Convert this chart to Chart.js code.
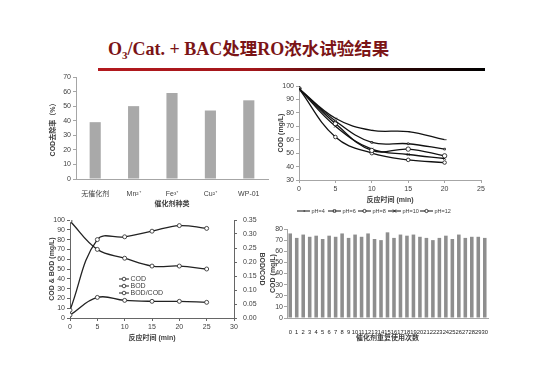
<!DOCTYPE html>
<html><head><meta charset="utf-8">
<script src="https://cdn.jsdelivr.net/npm/chart.js@4.4.0/dist/chart.umd.min.js"></script>
<style>
html,body{margin:0;padding:0;background:#fff;}
body{width:540px;height:382px;position:relative;overflow:hidden;}
canvas{position:absolute;}
#title{position:absolute;left:108px;top:39px;font-family:"Liberation Serif","Noto Sans CJK SC",serif;font-weight:bold;font-size:18px;color:#7b1416;white-space:nowrap;line-height:18px;}
#title .zh{font-family:"Noto Sans CJK SC",sans-serif;font-weight:bold;font-size:17.5px;}
#title sub{font-size:11px;vertical-align:-4px;line-height:0;}
#rule{position:absolute;left:98px;top:68px;width:387px;height:3px;background:linear-gradient(to right,#b3191e 0%,#a3161a 40%,#3a0707 68%,#000 100%);}
</style></head><body>
<div id="title">O<sub>3</sub>/Cat. + BAC<span class="zh">处理</span>RO<span class="zh">浓水试验结果</span></div>
<div id="rule"></div>
<canvas id="c1" width="232" height="140" style="left:40px;top:68px"></canvas>
<canvas id="c2" width="215" height="142" style="left:272px;top:78px"></canvas>
<canvas id="c3" width="221" height="130" style="left:45px;top:212px"></canvas>
<canvas id="c4" width="228" height="122" style="left:266px;top:220px"></canvas>
<script>
// ---- data ----
const catLabels = ['无催化剂', 'Mn²⁺', 'Fe³⁺', 'Cu²⁺', 'WP-01'];
const removalRate = [39, 50, 59, 47, 54];

const phTime = [0, 5, 10, 15, 20];
const phNames = ['pH=4', 'pH=6', 'pH=8', 'pH=10', 'pH=12'];
const ph4 = [98, 76, 67, 66, 60];
const ph6 = [98, 74, 58, 57, 53];
const ph8 = [98, 72, 52, 53, 48];
const ph10 = [98, 70, 53, 49, 46];
const ph12 = [98, 62, 50, 45, 43];

const bTime = [0, 5, 10, 15, 20, 25];
const codVals = [99, 70, 61, 53, 53, 50];
const bodVals = [3, 21, 18, 17, 17, 16];
const ratioVals = [0.028, 0.28, 0.29, 0.31, 0.33, 0.32];

const reuseLabels = ['0','1','2','3','4','5','6','7','8','9','10','11','12','13','14','15','16','17','18','19','20','21','22','23','24','25','26','27','28','29','30'];
const reuseCOD = [76,72,75,73,74,71,74,73,76,72,75,73,76,71,70,77,72,75,74,75,73,72,70,72,74,71,75,72,73,73,72];

// ---- helpers ----
Chart.defaults.font.family = '"Liberation Sans","Noto Sans CJK SC",sans-serif';
Chart.defaults.font.size = 7;
Chart.defaults.color = '#404040';
Chart.defaults.animation = false;

function fix(w, h) {
  return function (s) {
    if (w != null) s.width = w;
    if (h != null) s.height = h;
    s.paddingTop = 0; s.paddingBottom = 0; s.paddingLeft = 0; s.paddingRight = 0;
  };
}
function pts(xs, ys) { return xs.map((x, i) => ({ x: x, y: ys[i] })); }

function drawMarker(ctx, style, r, x, y) {
  ctx.beginPath();
  if (style === 'circle') { ctx.arc(x, y, r, 0, Math.PI * 2); ctx.fill(); ctx.stroke(); }
  else if (style === 'rect') { ctx.rect(x - r, y - r, 2 * r, 2 * r); ctx.fill(); ctx.stroke(); }
  else if (style === 'crossRot') { ctx.moveTo(x - r, y - r); ctx.lineTo(x + r, y + r); ctx.moveTo(x + r, y - r); ctx.lineTo(x - r, y + r); ctx.stroke(); }
  else if (style === 'dash') { ctx.moveTo(x, y); ctx.lineTo(x + r, y); ctx.stroke(); }
}

const customLegend = {
  id: 'customLegend',
  afterDraw(chart, args, o) {
    if (!o || !o.items) return;
    const ctx = chart.ctx;
    ctx.save();
    ctx.font = o.font;
    ctx.textBaseline = 'middle';
    chart.data.datasets.forEach((ds, i) => {
      const p = o.items[i];
      ctx.strokeStyle = ds.borderColor; ctx.lineWidth = o.lineWidth || 1;
      ctx.beginPath(); ctx.moveTo(p[0], p[1]); ctx.lineTo(p[0] + o.lineLen, p[1]); ctx.stroke();
      if (ds.pointRadius > 0) {
        ctx.fillStyle = ds.pointBackgroundColor || '#fff';
        ctx.lineWidth = 0.8;
        drawMarker(ctx, ds.pointStyle, Math.min(ds.pointRadius, o.maxR || 2), p[0] + o.lineLen / 2, p[1]);
      }
      ctx.fillStyle = o.color || '#404040';
      ctx.fillText(ds.label, p[0] + o.lineLen + 1.5, p[1] + 0.5);
    });
    ctx.restore();
  }
};
Chart.register(customLegend);

const axisGray = '#a6a6a6';

// ---- chart 1 ----
new Chart(document.getElementById('c1'), {
  type: 'bar',
  data: { labels: catLabels, datasets: [{ label: 'COD去除率', data: removalRate, backgroundColor: '#a9a9a9', barPercentage: 0.29, categoryPercentage: 1 }] },
  options: {
    responsive: false,
    layout: { padding: { top: 9, right: 4, left: 0, bottom: 0 } },
    plugins: { legend: { display: false }, tooltip: { enabled: false } },
    scales: {
      x: {
        grid: { display: false }, border: { color: axisGray },
        ticks: { font: { size: 7 }, padding: 3 },
        title: { display: true, text: '催化剂种类', font: { size: 7, weight: 'bold' }, padding: { top: 1, bottom: 0 } },
        afterFit: fix(null, 29)
      },
      y: {
        min: 0, max: 70,
        ticks: { stepSize: 10, padding: 2, font: { size: 7 }, autoSkip: false },
        grid: { drawOnChartArea: false, tickLength: 3, color: axisGray }, border: { color: axisGray },
        title: { display: true, text: 'COD去除率（%）', font: { size: 7, weight: 'bold' }, padding: { top: 9, bottom: 0 } },
        afterFit: fix(36, null)
      }
    }
  }
});

// ---- chart 2 ----
const phSets = [ph4, ph6, ph8, ph10, ph12];
const phStyles = [['dash', 2], ['rect', 1.2], ['circle', 2.2], ['crossRot', 1.8], ['circle', 1.8]];
new Chart(document.getElementById('c2'), {
  type: 'line',
  data: {
    datasets: phSets.map((d, i) => ({
      label: phNames[i], data: pts(phTime, d),
      borderColor: '#111', borderWidth: 1.3, tension: 0.4,
      pointStyle: phStyles[i][0], pointRadius: phStyles[i][1], pointBorderWidth: 0.8,
      pointBackgroundColor: '#fff', pointBorderColor: '#111'
    }))
  },
  options: {
    responsive: false,
    layout: { padding: { top: 8, right: 6, left: 0, bottom: 16 } },
    plugins: {
      legend: { display: false }, tooltip: { enabled: false },
      customLegend: { font: '5.5px "Liberation Sans"', lineLen: 13, maxR: 1.6, items: [[25, 133], [56, 133], [86, 133], [116, 133], [148, 133]] }
    },
    scales: {
      x: {
        type: 'linear', min: 0, max: 25,
        ticks: { stepSize: 5, padding: 2, font: { size: 7 } },
        grid: { drawOnChartArea: false, tickLength: 3, color: axisGray }, border: { color: axisGray },
        title: { display: true, text: '反应时间 (min)', font: { size: 7, weight: 'bold' }, padding: { top: 2, bottom: 0 } },
        afterFit: fix(null, 24)
      },
      y: {
        min: 30, max: 100,
        ticks: { stepSize: 10, padding: 2, font: { size: 7 }, autoSkip: false },
        grid: { drawOnChartArea: false, tickLength: 3, color: axisGray }, border: { color: axisGray },
        title: { display: true, text: 'COD (mg/L)', font: { size: 7, weight: 'bold' }, padding: { top: 5, bottom: 0 } },
        afterFit: fix(27, null)
      }
    }
  }
});

// ---- chart 3 ----
const dark = '#222';
new Chart(document.getElementById('c3'), {
  type: 'line',
  data: {
    datasets: [
      { label: 'COD', data: pts(bTime, codVals), yAxisID: 'y', borderColor: dark, borderWidth: 1.3, tension: 0.4, pointStyle: 'circle', pointRadius: 2, pointBackgroundColor: '#fff', pointBorderColor: dark, pointBorderWidth: 0.8 },
      { label: 'BOD', data: pts(bTime, bodVals), yAxisID: 'y', borderColor: dark, borderWidth: 1.3, tension: 0.4, pointStyle: 'circle', pointRadius: 2, pointBackgroundColor: '#fff', pointBorderColor: dark, pointBorderWidth: 0.8 },
      { label: 'BOD/COD', data: pts(bTime, ratioVals), yAxisID: 'y1', borderColor: dark, borderWidth: 1.3, tension: 0.4, pointStyle: 'circle', pointRadius: 2, pointBackgroundColor: '#fff', pointBorderColor: dark, pointBorderWidth: 0.8 }
    ]
  },
  options: {
    responsive: false,
    layout: { padding: { top: 8, right: 0, left: 0, bottom: 0 } },
    plugins: {
      legend: { display: false }, tooltip: { enabled: false },
      customLegend: { font: '7px "Liberation Sans"', lineLen: 10, maxR: 1.8, items: [[74, 67], [74, 74], [74, 81]] }
    },
    scales: {
      x: {
        type: 'linear', min: 0, max: 30,
        ticks: { stepSize: 5, padding: 2, font: { size: 7 } },
        grid: { drawOnChartArea: false, tickLength: 3, color: '#666' }, border: { color: '#666' },
        title: { display: true, text: '反应时间 (min)', font: { size: 7, weight: 'bold' }, padding: { top: 1, bottom: 0 } },
        afterFit: fix(null, 24)
      },
      y: {
        position: 'left', min: 0, max: 100,
        ticks: { stepSize: 10, padding: 2, font: { size: 7 }, autoSkip: false },
        grid: { drawOnChartArea: false, tickLength: 3, color: '#666' }, border: { color: '#666' },
        title: { display: true, text: 'COD & BOD (mg/L)', font: { size: 7, weight: 'bold' }, padding: { top: 3, bottom: 0 } },
        afterFit: fix(25, null)
      },
      y1: {
        position: 'right', min: 0, max: 0.35,
        ticks: { stepSize: 0.05, padding: 6, font: { size: 7 }, autoSkip: false, callback: v => Number(v).toFixed(2) },
        grid: { drawOnChartArea: false, tickLength: 3, color: '#666' }, border: { color: '#666' },
        title: { display: true, text: 'BOD/COD', font: { size: 7, weight: 'bold' }, padding: { top: 0, bottom: 0 } },
        afterFit: fix(32, null)
      }
    }
  }
});

// ---- chart 4 ----
new Chart(document.getElementById('c4'), {
  type: 'bar',
  data: { labels: reuseLabels, datasets: [{ label: 'COD', data: reuseCOD, backgroundColor: '#8e8e8e', barPercentage: 0.55, categoryPercentage: 1 }] },
  options: {
    responsive: false,
    layout: { padding: { top: 9, right: 6, left: 0, bottom: 0 } },
    plugins: { legend: { display: false }, tooltip: { enabled: false } },
    scales: {
      x: {
        grid: { display: false }, border: { color: axisGray },
        ticks: { font: { size: 5.8 }, color: '#222', padding: 3, autoSkip: false, maxRotation: 0, minRotation: 0 },
        title: { display: true, text: '催化剂重复使用次数', font: { size: 7, weight: 'bold' }, padding: { top: 1, bottom: 0 } },
        afterFit: fix(null, 24)
      },
      y: {
        min: 0, max: 80,
        ticks: { stepSize: 10, padding: 1, font: { size: 7 }, autoSkip: false },
        grid: { drawOnChartArea: false, tickLength: 3, color: axisGray }, border: { color: axisGray },
        title: { display: true, text: 'COD (mg/L)', font: { size: 7, weight: 'bold' }, padding: { top: 3, bottom: 0 } },
        afterFit: fix(21, null)
      }
    }
  }
});
</script>
</body></html>
